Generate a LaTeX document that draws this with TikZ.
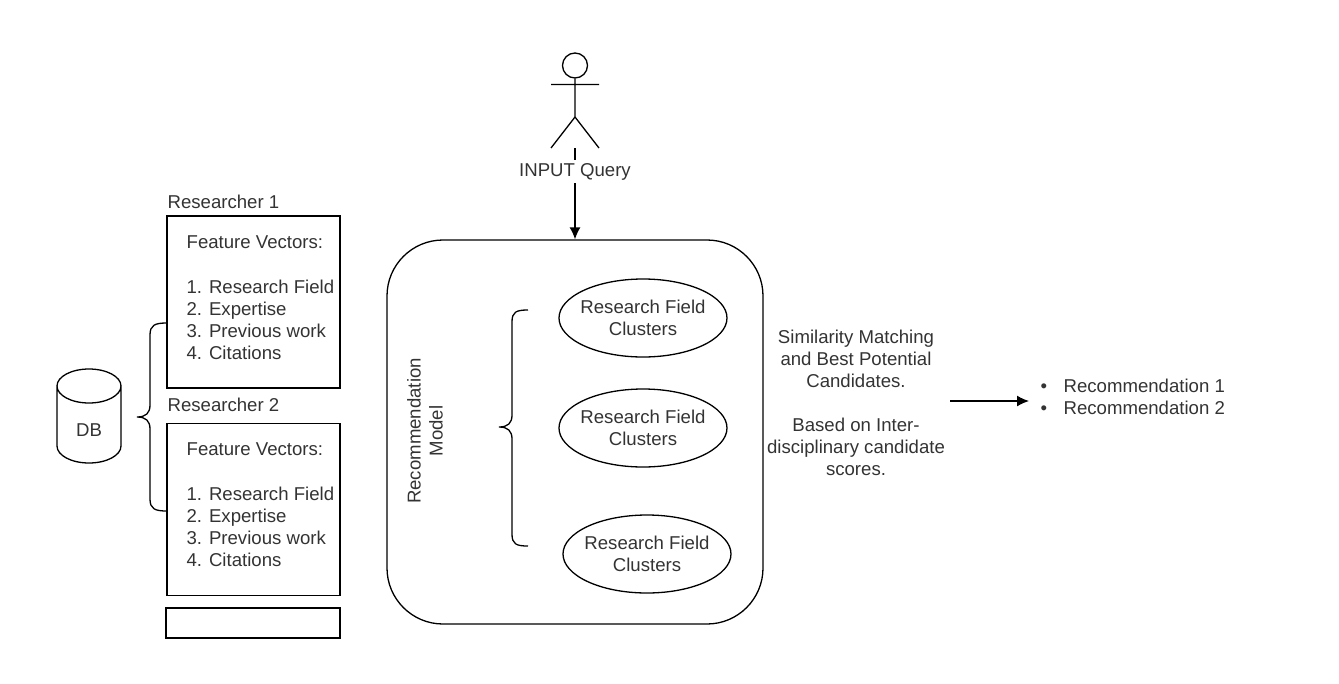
\documentclass[tikz,border=0pt]{standalone}
\usepackage{fontspec}
\setmainfont{Liberation Sans}
\usetikzlibrary{arrows.meta}
\usetikzlibrary{shapes.geometric}
\tikzset{
	txt/.style={inner sep=0pt,text=black!80,font=\fontsize{18.6}{22}\selectfont},
	recordbox/.style={draw,rectangle,minimum width=173,minimum height=172},
	cluster/.style={draw,ellipse,inner sep=0pt,minimum width=168,minimum height=78,label={[txt,align=center]center:Research Field\\ Clusters}},
	line/.style={line width=1.3pt},
}
\newcommand{\featurelist}{Feature Vectors:\\[1pt] \\ 1. Research Field\\ 2. Expertise\\ 3. Previous work\\ 4. Citations}
\begin{document}
\begin{tikzpicture}[x=1pt,y=-1pt,every path/.style={line},every node/.append style={line width=1.3pt},>={Latex[length=12pt,width=11pt]}]
		\useasboundingbox (0,0) rectangle (1339,683);
		% database
		\draw (57,386) arc[start angle=180,end angle=0,x radius=32,y radius=17] -- (121,446) arc[start angle=0,end angle=180,x radius=32,y radius=17] -- cycle;
		\draw (57,386) arc[start angle=180,end angle=360,x radius=32,y radius=17];
		\node[txt] (db) at (89,430) {DB};
		\draw (167,323) .. controls (155,323) and (150,325) .. (150,335) -- (150,405) .. controls (150,413) and (146,417) .. (137,417) .. controls (146,417) and (150,421) .. (150,429) -- (150,499) .. controls (150,509) and (155,511) .. (167,511);
		% researchers
		\node[recordbox] (res1) at (253.5,302) {};
		\node[recordbox] (res2) at (253.5,509.5) {};
		\node[draw,rectangle,minimum width=174,minimum height=30] (spare) at (253,623) {};
		\node[txt,anchor=west] (res1name) at (167,202) {Researcher 1};
		\node[txt,anchor=west] (res2name) at (167,405) {Researcher 2};
		\node[txt,anchor=north west,align=left] (res1list) at (186,235) {\featurelist};
		\node[txt,anchor=north west,align=left] (res2list) at (186,442) {\featurelist};
		% model
		\node[draw,rectangle,rounded corners=56,minimum width=376,minimum height=384] (model) at (575,432) {};
		\node[txt,rotate=90,align=center] (modelname) at (425,431) {Recommendation\\ Model};
		\draw (528,310) .. controls (516,310) and (512,312) .. (512,322) -- (512,415) .. controls (512,423) and (508,427) .. (499,427) .. controls (508,427) and (512,431) .. (512,439) -- (512,534) .. controls (512,544) and (516,546) .. (528,546);
		\node[cluster] (field1) at (643,318) {};
		\node[cluster] (field2) at (643,428) {};
		\node[cluster] (field3) at (647,554) {};
		% user
		\node[draw,circle,minimum size=25,inner sep=0pt] (head) at (575,65.5) {};
		\coordinate (hip) at (575,117);
		\coordinate (foot) at (575,148);
		\draw (head) -- (hip) -- (551,148) (hip) -- (599,148) (551,84.5) -- (599,84.5);
		\draw[->] (foot) -- node[txt,fill=white,inner ysep=3pt,pos=.26] (query) {INPUT Query} (model.north);
		% result
		\node[txt,align=center] (match) at (856,403) {Similarity Matching\\ and Best Potential\\ Candidates.\\ \\ Based on Inter-\\ disciplinary candidate\\ scores.};
		\node[txt,anchor=west,align=left] (recs) at (1040,397) {\makebox[23pt][l]{\textbullet}Recommendation 1\\ \makebox[23pt][l]{\textbullet}Recommendation 2};
		\coordinate (matchout) at (950,401);
		\coordinate (recsin) at (1029,401);
		\draw[->] (matchout) -- (recsin);
	\end{tikzpicture}
\end{document}
